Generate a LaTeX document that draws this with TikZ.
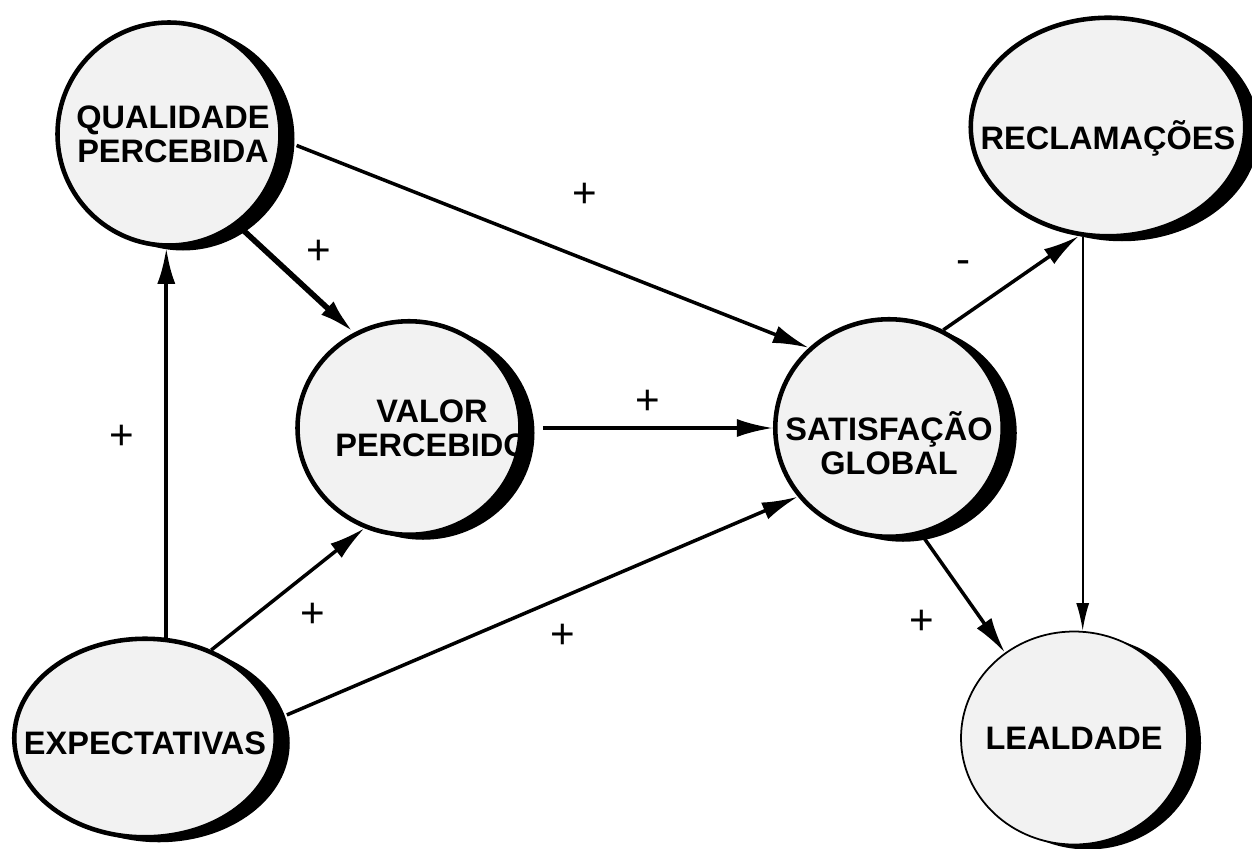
\documentclass[tikz,border=0pt]{standalone}
\usepackage{fontspec}
\setmainfont{Liberation Sans}
\usetikzlibrary{shapes.geometric,shadows,arrows.meta}
\definecolor{fundo}{HTML}{F2F2F2}
\tikzset{
  elipse/.style={ellipse, draw=black, line width=2.6pt, fill=fundo, inner sep=0pt,
    drop shadow={shadow xshift=0.28cm, shadow yshift=-0.1cm, fill=black, opacity=1}},
  rotulo/.style={font=\fontsize{18.5}{19.5}\selectfont\bfseries, align=center},
  seta/.style={draw=black, line width=2pt, -{Latex[length=0.72cm,width=0.36cm]}},
  sinal/.style={font=\fontsize{24}{24}\selectfont}
}
\begin{document}
\begin{tikzpicture}
            \useasboundingbox (0,0) rectangle (25.04,16.96);
            \node[elipse, minimum width=4.46cm, minimum height=4.46cm,
                  label={[rotulo, xshift=0.08cm]center:{QUALIDADE\\PERCEBIDA}}] (qual) at (3.38,14.28) {};
            \node[elipse, minimum width=4.46cm, minimum height=4.27cm,
                  label={[rotulo, xshift=0.46cm]center:{VALOR\\PERCEBIDO}}] (val) at (8.18,8.40) {};
            \node[elipse, minimum width=4.55cm, minimum height=4.35cm,
                  label={[rotulo, yshift=-0.3cm]center:{SATISFAÇÃO\\GLOBAL}}] (sat) at (17.78,8.40) {};
            \node[elipse, minimum width=5.49cm, minimum height=4.37cm,
                  label={[rotulo, yshift=-0.22cm]center:{RECLAMAÇÕES}}] (rec) at (22.16,14.42) {};
            \node[elipse, line width=1pt, minimum width=4.52cm, minimum height=4.26cm,
                  label={[rotulo]center:{LEALDADE}}] (leal) at (21.48,2.20) {};
            \node[elipse, minimum width=5.23cm, minimum height=3.97cm,
                  label={[rotulo, yshift=-0.1cm]center:{EXPECTATIVAS}}] (exp) at (2.90,2.20) {};
            \draw[seta, shorten <=0.3cm] (qual.-3) -- (sat.135);
            \draw[seta, line width=3.2pt] (qual.-53) -- (val.120);
            \draw[seta, line width=2.4pt] (exp.78) -- (exp.78 |- qual.south);
            \draw[seta] (exp.53) -- (val.246);
            \draw[seta, shorten <=0.24cm] (exp.8) -- (sat.217);
            \draw[seta, shorten <=0.4cm] (val.east) -- (sat.west);
            \draw[seta] (sat.61) -- (rec.255);
            \draw[seta, shorten <=0.1cm] (sat.-73) -- (leal.129);
            \draw[seta, line width=1.1pt, -{Latex[length=0.55cm,width=0.26cm]}] (rec.257.5) -- (rec.257.5 |- leal.north);
            \node[sinal] (s1) at (11.70,13.06) {+};
            \node[sinal] (s2) at (6.38,11.92) {+};
            \node[sinal] (s3) at (2.44,8.22) {+};
            \node[sinal] (s4) at (6.26,4.66) {+};
            \node[sinal] (s5) at (11.26,4.24) {+};
            \node[sinal] (s6) at (12.96,8.92) {+};
            \node[sinal] (s7) at (19.28,11.62) {-};
            \node[sinal] (s8) at (18.44,4.52) {+};
        \end{tikzpicture}
\end{document}
